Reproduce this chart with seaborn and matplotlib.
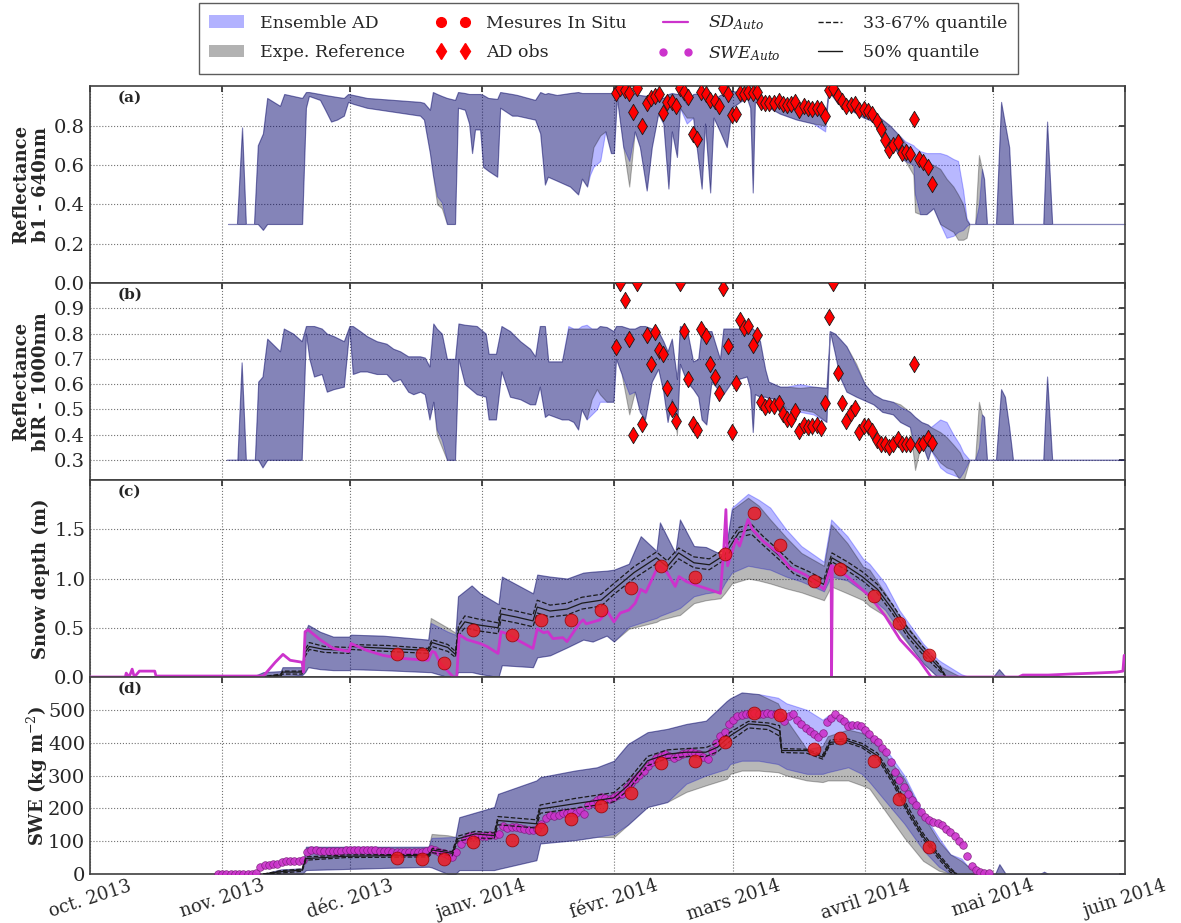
import matplotlib
matplotlib.use('Agg')
import matplotlib.pyplot as plt
import matplotlib.lines as mlines
import matplotlib.patches as mpatches
import seaborn as sns
import numpy as np
import pandas as pd

# ---- data (day offsets from 2013-10-01) ----
START = pd.Timestamp('2013-10-01')
MONTH_TICKS = ['2013-10-01', '2013-11-01', '2013-12-01', '2014-01-01', '2014-02-01',
               '2014-03-01', '2014-04-01', '2014-05-01', '2014-06-01']
MONTH_LABELS = ['oct. 2013', 'nov. 2013', 'déc. 2013', 'janv. 2014', 'févr. 2014',
                'mars 2014', 'avril 2014', 'mai 2014', 'juin 2014']

# panel (a) reflectance b1
A_DAY = [32.4, 34.5, 35.7, 36.6, 38.5, 39.4, 40.6, 41.6, 44.6, 45.6, 49.8, 50.7, 51.4, 54.0, 55.2, 56.6, 58.0, 59.6, 60.6, 61.8,
         65.0, 77.5, 78.4, 79.8, 80.5, 81.5, 82.6, 83.8, 85.7, 86.4, 88.0, 89.0, 89.7, 90.4, 91.6, 92.3, 93.5, 95.6, 96.3, 99.1,
         100.3, 104.5, 105.7, 106.8, 107.5, 109.6, 112.7, 114.6, 115.5, 116.7, 117.4, 118.2, 119.8, 121.0, 122.3, 123.0, 123.7, 125.2, 126.6, 127.9,
         129.1, 130.7, 131.9, 133.4, 134.6, 135.8, 136.6, 137.8, 138.5, 140.1, 141.6, 143.6, 144.4, 145.6, 146.4, 147.9, 149.5, 150.7, 152.6, 154.2,
         155.0, 155.6, 156.1, 157.7, 162.0, 165.9, 169.8, 172.6, 173.4, 175.3, 177.7, 181.6, 184.0, 185.5, 187.8, 190.2, 191.4, 193.3, 193.7, 194.9,
         196.4, 198.0, 199.6, 201.1, 202.7, 203.8, 205.0, 205.8, 206.5, 207.8, 208.7, 209.4, 209.9, 210.6, 212.7, 213.9, 214.8, 215.8, 216.7, 223.8,
         224.7, 225.9, 243.0]
A_ENS_LO = [0.30, 0.30, 0.30, 0.30, 0.30, 0.30, 0.27, 0.30, 0.30, 0.30, 0.30, 0.89, 0.95, 0.93, 0.88, 0.82, 0.83, 0.85, 0.92, 0.91,
            0.89, 0.85, 0.83, 0.66, 0.55, 0.44, 0.41, 0.30, 0.30, 0.89, 0.88, 0.81, 0.66, 0.78, 0.78, 0.59, 0.57, 0.54, 0.89, 0.85,
            0.85, 0.83, 0.76, 0.50, 0.54, 0.52, 0.49, 0.45, 0.53, 0.49, 0.55, 0.59, 0.62, 0.77, 0.66, 0.66, 0.94, 0.69, 0.62, 0.77,
            0.69, 0.47, 0.69, 0.86, 0.81, 0.48, 0.77, 0.64, 0.89, 0.81, 0.84, 0.48, 0.81, 0.46, 0.84, 0.77, 0.69, 0.89, 0.92, 0.94,
            0.89, 0.46, 0.92, 0.91, 0.86, 0.83, 0.81, 0.77, 0.975, 0.92, 0.89, 0.84, 0.82, 0.79, 0.72, 0.64, 0.62, 0.60, 0.45, 0.35,
            0.35, 0.38, 0.30, 0.23, 0.24, 0.26, 0.27, 0.29, 0.30, 0.30, 0.30, 0.30, 0.30, 0.30, 0.30, 0.30, 0.30, 0.30, 0.30, 0.30,
            0.30, 0.30, 0.30]
A_ENS_HI = [0.30, 0.30, 0.79, 0.30, 0.30, 0.70, 0.76, 0.94, 0.90, 0.96, 0.94, 0.97, 0.97, 0.96, 0.955, 0.95, 0.945, 0.94, 0.96, 0.955,
            0.94, 0.92, 0.915, 0.88, 0.97, 0.96, 0.95, 0.94, 0.93, 0.97, 0.965, 0.96, 0.96, 0.96, 0.96, 0.955, 0.94, 0.935, 0.97, 0.96,
            0.955, 0.93, 0.97, 0.96, 0.965, 0.955, 0.965, 0.97, 0.965, 0.965, 0.965, 0.965, 0.965, 0.965, 0.965, 0.965, 0.975, 0.97, 0.965, 0.96,
            0.955, 0.95, 0.95, 0.945, 0.94, 0.96, 0.965, 0.96, 0.96, 0.91, 0.96, 0.965, 0.96, 0.96, 0.93, 0.955, 0.96, 0.975, 0.97, 0.97,
            0.965, 0.96, 0.955, 0.925, 0.90, 0.88, 0.865, 0.84, 0.98, 0.955, 0.93, 0.89, 0.865, 0.84, 0.80, 0.745, 0.72, 0.70, 0.69, 0.67,
            0.66, 0.66, 0.66, 0.65, 0.63, 0.62, 0.47, 0.33, 0.30, 0.30, 0.40, 0.58, 0.53, 0.30, 0.30, 0.92, 0.81, 0.69, 0.30, 0.30,
            0.82, 0.30, 0.30]
A_REF_LO = [0.30, 0.30, 0.30, 0.30, 0.30, 0.30, 0.27, 0.30, 0.30, 0.30, 0.30, 0.89, 0.95, 0.93, 0.88, 0.82, 0.83, 0.85, 0.92, 0.91,
            0.89, 0.85, 0.83, 0.66, 0.55, 0.40, 0.38, 0.30, 0.30, 0.89, 0.88, 0.81, 0.66, 0.78, 0.78, 0.59, 0.57, 0.54, 0.89, 0.85,
            0.85, 0.83, 0.76, 0.50, 0.54, 0.52, 0.49, 0.45, 0.53, 0.49, 0.58, 0.69, 0.75, 0.77, 0.66, 0.66, 0.94, 0.69, 0.49, 0.77,
            0.69, 0.47, 0.69, 0.86, 0.81, 0.48, 0.77, 0.64, 0.89, 0.84, 0.84, 0.48, 0.81, 0.46, 0.84, 0.77, 0.69, 0.89, 0.92, 0.94,
            0.89, 0.46, 0.92, 0.91, 0.86, 0.83, 0.81, 0.80, 0.975, 0.92, 0.89, 0.84, 0.82, 0.79, 0.72, 0.64, 0.62, 0.55, 0.36, 0.35,
            0.35, 0.38, 0.30, 0.28, 0.26, 0.22, 0.22, 0.23, 0.30, 0.30, 0.30, 0.30, 0.30, 0.30, 0.30, 0.30, 0.30, 0.30, 0.30, 0.30,
            0.30, 0.30, 0.30]
A_REF_HI = [0.30, 0.30, 0.79, 0.30, 0.30, 0.70, 0.76, 0.94, 0.90, 0.96, 0.94, 0.97, 0.97, 0.96, 0.955, 0.95, 0.945, 0.94, 0.96, 0.955,
            0.94, 0.92, 0.915, 0.88, 0.97, 0.96, 0.95, 0.94, 0.93, 0.97, 0.965, 0.96, 0.96, 0.96, 0.96, 0.955, 0.94, 0.935, 0.97, 0.96,
            0.955, 0.93, 0.97, 0.96, 0.965, 0.955, 0.965, 0.97, 0.965, 0.965, 0.965, 0.965, 0.965, 0.965, 0.965, 0.965, 0.975, 0.97, 0.965, 0.96,
            0.955, 0.95, 0.95, 0.945, 0.94, 0.96, 0.965, 0.96, 0.96, 0.91, 0.96, 0.965, 0.96, 0.96, 0.93, 0.955, 0.96, 0.975, 0.97, 0.97,
            0.965, 0.96, 0.955, 0.925, 0.90, 0.88, 0.865, 0.84, 0.98, 0.955, 0.93, 0.89, 0.865, 0.84, 0.80, 0.745, 0.71, 0.66, 0.65, 0.63,
            0.61, 0.60, 0.58, 0.53, 0.49, 0.45, 0.40, 0.32, 0.30, 0.30, 0.65, 0.58, 0.53, 0.30, 0.30, 0.92, 0.81, 0.69, 0.30, 0.30,
            0.82, 0.30, 0.30]

# panel (b) reflectance bIR
B_DAY = [32.1, 34.6, 35.6, 36.6, 38.7, 39.5, 40.5, 41.6, 44.6, 45.5, 47.7, 49.7, 50.7, 51.5, 52.6, 54.4, 55.6, 57.2, 59.6, 60.9,
         61.7, 63.4, 65.0, 67.3, 69.6, 71.2, 72.8, 74.7, 75.9, 77.5, 78.6, 79.7, 80.6, 81.4, 82.6, 83.8, 85.7, 86.5, 88.0, 90.8,
         92.9, 93.6, 95.3, 96.6, 98.6, 101.0, 103.3, 104.5, 105.6, 106.8, 107.6, 110.8, 112.3, 113.5, 114.6, 115.4, 116.6, 117.8, 119.0, 119.7,
         121.3, 122.9, 123.5, 124.8, 126.6, 127.9, 129.1, 130.3, 131.9, 133.4, 134.6, 135.6, 136.6, 137.8, 138.5, 140.1, 141.6, 142.8, 143.6, 144.7,
         145.9, 147.9, 148.7, 150.7, 152.2, 154.2, 155.0, 155.6, 156.1, 157.3, 158.5, 159.3, 162.0, 163.6, 166.7, 169.8, 172.9, 173.7, 174.9, 176.0,
         177.6, 179.9, 181.9, 183.9, 186.0, 188.5, 190.2, 192.5, 193.7, 195.2, 196.7, 197.4, 199.6, 201.1, 202.7, 204.2, 205.0, 206.5, 207.8, 208.7,
         209.4, 209.9, 210.6, 212.7, 213.9, 214.8, 215.8, 216.7, 223.8, 224.7, 225.9, 243.0]
B_ENS_LO = [0.30, 0.30, 0.30, 0.30, 0.30, 0.30, 0.27, 0.30, 0.30, 0.30, 0.30, 0.30, 0.80, 0.70, 0.63, 0.64, 0.57, 0.58, 0.59, 0.82,
            0.64, 0.65, 0.65, 0.64, 0.64, 0.61, 0.62, 0.57, 0.56, 0.57, 0.56, 0.46, 0.53, 0.42, 0.38, 0.30, 0.30, 0.70, 0.60, 0.56,
            0.55, 0.46, 0.46, 0.65, 0.55, 0.54, 0.52, 0.52, 0.59, 0.47, 0.48, 0.46, 0.46, 0.45, 0.42, 0.50, 0.46, 0.48, 0.50, 0.53,
            0.53, 0.53, 0.70, 0.64, 0.56, 0.57, 0.49, 0.46, 0.61, 0.66, 0.57, 0.45, 0.54, 0.43, 0.68, 0.61, 0.58, 0.55, 0.46, 0.44,
            0.61, 0.57, 0.56, 0.61, 0.62, 0.63, 0.58, 0.41, 0.56, 0.55, 0.55, 0.545, 0.54, 0.49, 0.49, 0.48, 0.45, 0.81, 0.72, 0.63,
            0.57, 0.55, 0.535, 0.52, 0.49, 0.48, 0.45, 0.43, 0.35, 0.37, 0.30, 0.34, 0.27, 0.25, 0.24, 0.23, 0.25, 0.30, 0.30, 0.30,
            0.30, 0.30, 0.30, 0.30, 0.30, 0.30, 0.30, 0.30, 0.30, 0.30, 0.30, 0.30]
B_ENS_HI = [0.30, 0.30, 0.686, 0.30, 0.30, 0.61, 0.63, 0.78, 0.73, 0.82, 0.80, 0.77, 0.83, 0.83, 0.83, 0.82, 0.80, 0.79, 0.77, 0.83,
            0.83, 0.81, 0.79, 0.77, 0.76, 0.74, 0.73, 0.71, 0.71, 0.71, 0.705, 0.67, 0.84, 0.82, 0.80, 0.70, 0.70, 0.84, 0.835, 0.83,
            0.80, 0.72, 0.72, 0.83, 0.81, 0.77, 0.74, 0.71, 0.83, 0.83, 0.69, 0.69, 0.83, 0.82, 0.82, 0.83, 0.835, 0.82, 0.82, 0.83,
            0.826, 0.81, 0.83, 0.83, 0.82, 0.82, 0.83, 0.83, 0.82, 0.81, 0.77, 0.73, 0.78, 0.62, 0.83, 0.82, 0.69, 0.70, 0.82, 0.81,
            0.81, 0.70, 0.82, 0.82, 0.82, 0.82, 0.82, 0.82, 0.81, 0.77, 0.66, 0.61, 0.59, 0.59, 0.60, 0.59, 0.585, 0.81, 0.80, 0.78,
            0.75, 0.67, 0.60, 0.56, 0.54, 0.53, 0.51, 0.49, 0.47, 0.45, 0.44, 0.43, 0.46, 0.45, 0.40, 0.36, 0.33, 0.30, 0.30, 0.35,
            0.48, 0.47, 0.30, 0.30, 0.58, 0.55, 0.43, 0.30, 0.30, 0.63, 0.30, 0.30]
B_REF_LO = [0.30, 0.30, 0.30, 0.30, 0.30, 0.30, 0.27, 0.30, 0.30, 0.30, 0.30, 0.30, 0.80, 0.70, 0.63, 0.64, 0.57, 0.58, 0.59, 0.82,
            0.64, 0.65, 0.65, 0.64, 0.64, 0.61, 0.62, 0.57, 0.56, 0.57, 0.56, 0.46, 0.53, 0.40, 0.35, 0.30, 0.30, 0.70, 0.60, 0.56,
            0.55, 0.46, 0.46, 0.65, 0.55, 0.54, 0.52, 0.52, 0.59, 0.47, 0.48, 0.46, 0.46, 0.45, 0.42, 0.50, 0.46, 0.54, 0.58, 0.56,
            0.53, 0.53, 0.70, 0.64, 0.48, 0.57, 0.49, 0.46, 0.61, 0.66, 0.57, 0.45, 0.54, 0.40, 0.68, 0.61, 0.58, 0.55, 0.46, 0.44,
            0.61, 0.57, 0.56, 0.61, 0.62, 0.63, 0.58, 0.41, 0.56, 0.55, 0.55, 0.545, 0.54, 0.50, 0.50, 0.49, 0.45, 0.81, 0.72, 0.63,
            0.57, 0.55, 0.535, 0.52, 0.49, 0.48, 0.45, 0.43, 0.26, 0.37, 0.30, 0.34, 0.29, 0.27, 0.26, 0.22, 0.21, 0.30, 0.30, 0.30,
            0.30, 0.30, 0.30, 0.30, 0.30, 0.30, 0.30, 0.30, 0.30, 0.30, 0.30, 0.30]
B_REF_HI = [0.30, 0.30, 0.686, 0.30, 0.30, 0.61, 0.63, 0.78, 0.73, 0.82, 0.80, 0.77, 0.83, 0.83, 0.83, 0.82, 0.80, 0.79, 0.77, 0.83,
            0.83, 0.81, 0.79, 0.77, 0.76, 0.74, 0.73, 0.71, 0.71, 0.71, 0.705, 0.67, 0.84, 0.82, 0.80, 0.70, 0.70, 0.84, 0.835, 0.83,
            0.80, 0.72, 0.72, 0.83, 0.81, 0.77, 0.74, 0.71, 0.83, 0.83, 0.69, 0.69, 0.82, 0.82, 0.82, 0.82, 0.82, 0.82, 0.82, 0.83,
            0.826, 0.81, 0.83, 0.83, 0.82, 0.82, 0.83, 0.83, 0.82, 0.81, 0.77, 0.73, 0.78, 0.62, 0.83, 0.82, 0.69, 0.70, 0.82, 0.81,
            0.81, 0.70, 0.82, 0.82, 0.82, 0.82, 0.82, 0.82, 0.81, 0.77, 0.66, 0.61, 0.59, 0.59, 0.585, 0.59, 0.585, 0.81, 0.80, 0.78,
            0.75, 0.68, 0.60, 0.56, 0.54, 0.53, 0.52, 0.49, 0.47, 0.45, 0.44, 0.43, 0.41, 0.39, 0.36, 0.33, 0.30, 0.30, 0.30, 0.53,
            0.48, 0.47, 0.30, 0.30, 0.58, 0.55, 0.43, 0.30, 0.30, 0.63, 0.30, 0.30]

# AD observations (panels a and b share the dates)
OBS_DAY = [123.5, 124.4, 125.5, 126.6, 127.5, 128.5, 129.6, 130.7, 131.7, 132.7, 133.6, 134.5, 135.5, 136.6, 137.6,
           138.5, 139.5, 140.4, 141.6, 142.5, 143.5, 144.6, 145.6, 146.7, 147.7, 148.6, 149.8, 150.7, 151.7, 152.6,
           153.6, 154.5, 155.7, 156.6, 157.6, 158.5, 159.4, 160.6, 161.8, 162.7, 163.6, 164.6, 165.5, 166.5, 167.6,
           168.6, 169.5, 170.7, 171.6, 172.6, 173.5, 174.5, 175.6, 176.6, 177.5, 178.7, 179.6, 180.6, 181.7, 182.7,
           183.6, 184.8, 185.7, 186.7, 187.6, 188.5, 189.7, 190.6, 191.6, 192.5, 193.5, 194.6, 195.6, 196.8, 197.7]
OBS_B1 = [0.963, 0.99, 0.98, 0.966, 0.868, 0.99, 0.80, 0.915, 0.94, 0.95, 0.961, 0.865, 0.92, 0.92, 0.90,
          0.99, 0.97, 0.944, 0.756, 0.734, 0.97, 0.958, 0.929, 0.924, 0.90, 0.99, 0.961, 0.852, 0.857, 0.966,
          0.958, 0.97, 0.966, 0.97, 0.92, 0.916, 0.916, 0.912, 0.924, 0.911, 0.904, 0.907, 0.919, 0.877, 0.899,
          0.89, 0.885, 0.89, 0.882, 0.848, 0.98, 0.99, 0.95, 0.924, 0.90, 0.904, 0.911, 0.877, 0.882, 0.873,
          0.86, 0.823, 0.781, 0.726, 0.677, 0.702, 0.717, 0.658, 0.667, 0.655, 0.831, 0.63, 0.616, 0.587, 0.503]
OBS_BIR = [0.745, 1.0, 0.933, 0.78, 0.40, 1.0, 0.44, 0.795, 0.68, 0.805, 0.736, 0.72, 0.586, 0.50, 0.455,
           1.0, 0.81, 0.62, 0.443, 0.42, 0.82, 0.79, 0.68, 0.63, 0.565, 0.98, 0.75, 0.41, 0.604, 0.853,
           0.823, 0.83, 0.754, 0.795, 0.528, 0.509, 0.517, 0.515, 0.524, 0.48, 0.46, 0.46, 0.493, 0.413, 0.437,
           0.43, 0.433, 0.437, 0.428, 0.524, 0.865, 1.0, 0.644, 0.526, 0.452, 0.486, 0.505, 0.41, 0.434, 0.434,
           0.413, 0.377, 0.364, 0.361, 0.35, 0.364, 0.384, 0.361, 0.364, 0.361, 0.681, 0.357, 0.367, 0.387, 0.367]

# panel (c) snow depth envelopes
C_DAY = [38.0, 40.7, 44.8, 45.2, 49.8, 50.5, 51.2, 54.0, 57.1, 60.8, 61.3, 68.8, 79.4, 80.0, 84.0, 85.8, 86.4, 89.6, 91.6, 95.9,
         96.7, 104.0, 105.0, 108.0, 112.0, 115.8, 118.0, 121.3, 123.0, 126.5, 129.3, 133.0, 133.8, 137.4, 138.5, 141.8, 144.6, 148.0, 149.0, 150.7,
         154.5, 157.0, 159.7, 163.4, 167.0, 172.3, 174.0, 177.8, 181.5, 183.0, 186.7, 190.0, 195.6, 199.0, 200.0, 204.5, 206.4, 212.0, 213.4, 215.0,
         223.0, 224.0, 225.0, 243.0]
C_ENS_LO = [0, 0, 0, 0, 0.02, 0.05, 0.10, 0.08, 0.07, 0.07, 0.08, 0.07, 0.05, 0.05, 0.0, 0.0, 0.05, 0.05, 0.03, 0.0,
            0.12, 0.10, 0.20, 0.22, 0.30, 0.38, 0.36, 0.42, 0.36, 0.51, 0.55, 0.60, 0.62, 0.68, 0.70, 0.82, 0.85, 0.87, 0.95, 1.06,
            1.13, 1.11, 1.09, 1.02, 0.97, 0.87, 1.02, 0.98, 0.87, 0.82, 0.68, 0.47, 0.14, 0.0, 0, 0, 0, 0, 0, 0,
            0, 0, 0, 0]
C_ENS_HI = [0, 0.05, 0.06, 0.10, 0.10, 0.45, 0.53, 0.46, 0.41, 0.41, 0.43, 0.42, 0.38, 0.55, 0.46, 0.43, 0.82, 0.93, 0.85, 0.74,
            1.02, 0.85, 1.04, 1.02, 1.00, 1.06, 1.07, 1.08, 1.09, 1.15, 1.43, 1.28, 1.57, 1.26, 1.60, 1.33, 1.32, 1.25, 1.23, 1.72,
            1.86, 1.80, 1.72, 1.50, 1.33, 1.17, 1.60, 1.43, 1.20, 1.15, 0.95, 0.68, 0.34, 0.18, 0.15, 0.03, 0.0, 0.0, 0.08, 0.0,
            0.0, 0.02, 0.0, 0.0]
C_REF_LO = [0, 0, 0, 0, 0.02, 0.05, 0.10, 0.08, 0.07, 0.07, 0.08, 0.07, 0.05, 0.05, 0.0, 0.0, 0.05, 0.05, 0.03, 0.0,
            0.12, 0.10, 0.20, 0.22, 0.30, 0.38, 0.36, 0.42, 0.36, 0.49, 0.52, 0.56, 0.58, 0.62, 0.63, 0.75, 0.78, 0.80, 0.85, 0.95,
            1.00, 0.98, 0.95, 0.90, 0.86, 0.78, 0.92, 0.85, 0.78, 0.72, 0.62, 0.45, 0.14, 0.0, 0, 0, 0, 0, 0, 0,
            0, 0, 0, 0]
C_REF_HI = [0, 0.05, 0.06, 0.10, 0.10, 0.45, 0.53, 0.46, 0.41, 0.41, 0.43, 0.42, 0.38, 0.60, 0.50, 0.45, 0.82, 0.93, 0.85, 0.74,
            1.02, 0.85, 1.04, 1.02, 1.00, 1.06, 1.07, 1.08, 1.09, 1.15, 1.43, 1.28, 1.57, 1.26, 1.60, 1.33, 1.32, 1.25, 1.23, 1.70,
            1.82, 1.74, 1.60, 1.42, 1.26, 1.13, 1.55, 1.36, 1.12, 1.09, 0.85, 0.62, 0.31, 0.14, 0.10, 0.0, 0.0, 0.0, 0.08, 0.0,
            0.0, 0.02, 0.0, 0.0]

# panel (c) quantiles of snow depth
C_Q_DAY = [40.0, 44.8, 45.2, 49.8, 50.5, 51.5, 55.0, 60.8, 61.3, 70.0, 79.4, 80.3, 84.0, 85.8, 86.5, 88.0, 91.0, 95.8, 96.5, 100.0,
           104.0, 105.0, 108.0, 112.0, 115.5, 120.0, 123.0, 127.7, 133.0, 135.5, 138.2, 141.8, 145.4, 149.0, 152.4, 155.3, 158.0, 161.6, 165.2, 168.8,
           172.3, 174.2, 177.8, 181.3, 184.9, 188.5, 192.1, 195.7, 199.3, 201.0]
C_Q50 = [0, 0.02, 0.05, 0.05, 0.25, 0.31, 0.28, 0.27, 0.31, 0.29, 0.27, 0.35, 0.30, 0.23, 0.47, 0.56, 0.53, 0.50, 0.64, 0.61,
         0.57, 0.71, 0.67, 0.69, 0.75, 0.78, 0.89, 1.06, 1.21, 1.12, 1.26, 1.16, 1.14, 1.24, 1.47, 1.50, 1.38, 1.24, 1.09, 1.02,
         0.94, 1.21, 1.12, 1.02, 0.89, 0.68, 0.44, 0.26, 0.10, 0.0]
C_Q33 = [0, 0.01, 0.03, 0.03, 0.21, 0.28, 0.25, 0.24, 0.28, 0.26, 0.24, 0.31, 0.26, 0.20, 0.42, 0.50, 0.47, 0.44, 0.58, 0.55,
         0.51, 0.65, 0.61, 0.63, 0.69, 0.72, 0.84, 1.00, 1.15, 1.07, 1.20, 1.11, 1.09, 1.19, 1.42, 1.45, 1.34, 1.20, 1.05, 0.98,
         0.90, 1.17, 1.08, 0.98, 0.85, 0.64, 0.40, 0.22, 0.07, 0.0]
C_Q67 = [0, 0.03, 0.06, 0.06, 0.28, 0.35, 0.31, 0.30, 0.33, 0.32, 0.29, 0.38, 0.33, 0.26, 0.52, 0.62, 0.59, 0.55, 0.70, 0.67,
         0.63, 0.78, 0.73, 0.75, 0.81, 0.84, 0.95, 1.12, 1.27, 1.18, 1.31, 1.22, 1.20, 1.30, 1.52, 1.55, 1.43, 1.29, 1.14, 1.07,
         0.99, 1.26, 1.17, 1.07, 0.94, 0.73, 0.49, 0.30, 0.13, 0.0]

# automatic snow depth sensor
SD_DAY = [0, 8.3, 8.5, 9.2, 9.9, 10.4, 11.6, 15.2, 15.5, 40.7, 43.5, 45.3, 47.0, 49.8, 50.1, 50.5, 51.2, 54.0, 57.1, 60.8,
          61.3, 65.0, 68.8, 72.8, 79.4, 80.3, 81.0, 82.2, 83.8, 85.3, 86.1, 86.7, 88.5, 91.6, 93.2, 95.8, 96.5, 98.0, 100.2, 104.0,
          105.0, 106.5, 107.5, 108.7, 111.0, 112.0, 115.0, 115.8, 116.5, 119.7, 121.4, 123.0, 124.5, 126.5, 128.0, 129.3, 130.5, 133.0, 133.8, 135.5,
          137.4, 138.3, 140.0, 141.8, 144.6, 148.0, 148.8, 149.3, 149.7, 151.7, 152.5, 154.5, 155.5, 158.0, 161.6, 164.3, 167.9, 172.3, 174.0, 174.1,
          174.3, 177.8, 183.1, 186.7, 190.2, 194.7, 197.5, 218.0, 219.0, 225.0, 230.0, 236.0, 241.0, 242.5, 242.8]
SD_AUTO = [0.0, 0.0, 0.04, 0.0, 0.08, 0.0, 0.06, 0.06, 0.01, 0.01, 0.15, 0.23, 0.17, 0.15, 0.05, 0.46, 0.48, 0.38, 0.29, 0.26,
           0.34, 0.27, 0.22, 0.19, 0.17, 0.26, 0.25, 0.14, 0.07, 0.0, 0.0, 0.43, 0.38, 0.34, 0.31, 0.24, 0.46, 0.44, 0.38, 0.29,
           0.49, 0.45, 0.46, 0.39, 0.40, 0.36, 0.55, 0.58, 0.54, 0.58, 0.67, 0.56, 0.65, 0.68, 0.75, 0.89, 0.86, 1.09, 1.13, 1.06,
           0.92, 1.02, 0.97, 0.94, 0.90, 0.85, 1.30, 1.70, 1.13, 1.40, 1.33, 1.60, 1.50, 1.38, 1.26, 1.11, 1.04, 0.89, 1.13, 0.0,
           1.13, 1.02, 0.82, 0.62, 0.38, 0.17, 0.0, 0.0, 0.02, 0.02, 0.03, 0.04, 0.05, 0.06, 0.22]

# manual in situ measurements
INSITU_DAY = [72, 78, 83, 90, 99, 106, 113, 120, 127, 134, 142, 149, 156, 162, 170, 176, 184, 190, 197]
INSITU_SD = [0.235, 0.235, 0.147, 0.48, 0.425, 0.58, 0.58, 0.68, 0.90, 1.13, 1.02, 1.25, 1.67, 1.34, 0.97, 1.10, 0.82, 0.55, 0.22]
INSITU_SWE = [49, 45, 47, 96, 105, 137, 167, 206, 246, 339, 344, 403, 489, 484, 382, 414, 343, 229, 81]

# panel (d) SWE envelopes
D_DAY = [40.7, 44.8, 49.8, 50.7, 79.5, 80.2, 84.0, 85.8, 86.7, 94.9, 95.8, 104.8, 105.7, 113.8, 119.0, 123.0, 126.3, 130.9, 135.5, 140.0,
         144.6, 149.5, 150.3, 153.0, 157.0, 161.5, 163.5, 168.3, 172.0, 173.2, 178.0, 181.2, 183.0, 186.6, 191.2, 195.6, 199.3, 202.0, 204.6, 206.0,
         208.6, 209.5, 212.5, 213.5, 215.0, 223.0, 224.0, 225.0, 243.0]
D_ENS_LO = [0, 0, 0, 12, 22, 20, 0, 0, 12, 12, 15, 42, 93, 103, 113, 122, 150, 204, 219, 275,
            300, 320, 335, 345, 345, 335, 320, 305, 305, 310, 325, 305, 280, 224, 153, 73, 22, 0, 0, 0,
            0, 0, 0, 0, 0, 0, 0, 0, 0]
D_ENS_HI = [0, 14, 17, 83, 83, 110, 112, 113, 173, 204, 244, 285, 295, 315, 325, 345, 396, 432, 442, 457,
            467, 527, 535, 553, 548, 537, 520, 500, 470, 482, 467, 450, 426, 385, 300, 185, 110, 60, 47, 25,
            5, 0, 0, 30, 0, 0, 7, 0, 0]
D_REF_LO = [0, 0, 0, 12, 22, 20, 0, 0, 12, 12, 15, 42, 93, 103, 113, 112, 150, 204, 219, 250,
            270, 290, 305, 315, 315, 310, 300, 285, 280, 285, 285, 270, 260, 194, 110, 40, 10, 0, 0, 0,
            0, 0, 0, 0, 0, 0, 0, 0, 0]
D_REF_HI = [0, 14, 17, 83, 83, 122, 118, 113, 173, 204, 244, 285, 295, 315, 325, 345, 396, 432, 442, 457,
            467, 527, 535, 553, 548, 520, 470, 380, 390, 420, 440, 430, 415, 365, 290, 178, 100, 60, 40, 25,
            5, 0, 0, 30, 0, 0, 7, 0, 0]

# panel (d) quantiles of SWE
D_Q_DAY = [40.7, 44.8, 49.8, 50.7, 60.0, 79.5, 80.4, 85.0, 86.3, 90.4, 94.9, 95.8, 104.8, 105.7, 113.8, 119.0, 123.0, 126.3, 130.9, 135.5,
           140.0, 144.6, 147.3, 150.3, 154.6, 159.2, 161.9, 162.4, 168.3, 172.0, 173.8, 177.8, 181.2, 184.9, 188.5, 192.0, 195.7, 199.3, 202.0, 203.5]
D_Q50 = [0, 7, 12, 47, 54, 57, 73, 63, 107, 122, 117, 163, 153, 198, 214, 224, 232, 270, 345, 365,
         371, 371, 386, 421, 457, 452, 436, 376, 376, 356, 401, 406, 391, 360, 285, 194, 113, 53, 12, 0]
D_Q33 = [0, 3, 8, 42, 50, 52, 65, 55, 100, 110, 108, 150, 140, 185, 200, 210, 220, 255, 330, 352,
         358, 358, 372, 405, 445, 440, 420, 370, 368, 350, 395, 400, 385, 352, 275, 185, 105, 45, 5, 0]
D_Q67 = [0, 10, 15, 52, 58, 60, 78, 68, 115, 130, 125, 175, 165, 210, 230, 240, 248, 285, 358, 378,
         382, 385, 400, 432, 465, 460, 452, 382, 380, 362, 408, 412, 398, 368, 295, 205, 122, 60, 18, 0]

# automatic SWE sensor (daily)
SWE_DAY = list(range(30, 212))
SWE_AUTO = [1, 1, 1, 1, 1, 1, 1, 1, 1, 2, 20, 26, 28, 30, 30, 37, 39, 39, 39, 39,
            42, 67, 73, 72, 71, 70, 70, 70, 70, 71, 72, 73, 73, 73, 74, 73, 72, 72, 71, 70,
            69, 68, 68, 67, 67, 67, 66, 66, 66, 70, 75, 72, 66, 65, 58, 53, 67, 92, 107, 117,
            117, 116, 117, 117, 118, 118, 122, 146, 139, 142, 144, 140, 138, 135, 133, 136, 153, 170, 179, 178,
            179, 185, 187, 189, 185, 194, 184, 209, 216, 224, 234, 232, 229, 236, 240, 245, 265, 278, 290, 303,
            315, 328, 340, 352, 360, 365, 360, 353, 360, 365, 368, 371, 368, 365, 355, 350, 376, 400, 420, 432,
            457, 470, 482, 485, 487, 488, 489, 487, 488, 489, 488, 487, 480, 467, 480, 487, 470, 457, 445, 436,
            425, 416, 430, 462, 475, 487, 475, 465, 452, 455, 455, 450, 440, 426, 410, 401, 385, 371, 340, 310,
            285, 265, 244, 226, 209, 190, 173, 165, 158, 155, 150, 138, 128, 117, 102, 87, 55, 25, 12, 5,
            4, 4]

# ---- style ----
ENS_COLOR = '#0000ff'
REF_COLOR = '#000000'
MAGENTA = '#cc33cc'

sns.set_theme(style='white')
plt.rcParams['font.family'] = ['DejaVu Serif']
plt.rcParams['mathtext.fontset'] = 'dejavuserif'


def to_dates(days):
    return START + pd.to_timedelta(np.asarray(days, dtype=float), unit='D')


def band(ax, d, elo, ehi, rlo, rhi):
    x = to_dates(d)
    ax.fill_between(x, elo, ehi, color=ENS_COLOR, alpha=0.28, lw=0.8, zorder=1)
    ax.fill_between(x, rlo, rhi, color=REF_COLOR, alpha=0.28, lw=0.8, zorder=1)


def quantiles(ax, d, q33, q50, q67):
    x = to_dates(d)
    sns.lineplot(x=x, y=q50, ax=ax, color='k', lw=0.9, estimator=None, sort=False, zorder=3)
    for q in (q33, q67):
        sns.lineplot(x=x, y=q, ax=ax, color='k', lw=0.9, ls='--', estimator=None, sort=False, zorder=3)


fig = plt.figure(figsize=(11.81, 9.23), dpi=100)
left, width, height = 0.0762, 0.8764, 0.2134
bottoms = [0.6933, 0.4799, 0.2665, 0.0531]
axes = [fig.add_axes([left, b, width, height]) for b in bottoms]
ax_a, ax_b, ax_c, ax_d = axes

band(ax_a, A_DAY, A_ENS_LO, A_ENS_HI, A_REF_LO, A_REF_HI)
sns.scatterplot(x=to_dates(OBS_DAY), y=OBS_B1, ax=ax_a, marker='d', s=70, color='#ff0000',
                edgecolor='k', linewidth=0.6, zorder=5)

band(ax_b, B_DAY, B_ENS_LO, B_ENS_HI, B_REF_LO, B_REF_HI)
sns.scatterplot(x=to_dates(OBS_DAY), y=OBS_BIR, ax=ax_b, marker='d', s=70, color='#ff0000',
                edgecolor='k', linewidth=0.6, zorder=5)

band(ax_c, C_DAY, C_ENS_LO, C_ENS_HI, C_REF_LO, C_REF_HI)
quantiles(ax_c, C_Q_DAY, C_Q33, C_Q50, C_Q67)
sns.lineplot(x=to_dates(SD_DAY), y=SD_AUTO, ax=ax_c, color=MAGENTA, lw=2.0, estimator=None, sort=False, zorder=4)
sns.scatterplot(x=to_dates(INSITU_DAY), y=INSITU_SD, ax=ax_c, s=85, color='#ee1c24', alpha=0.85,
                edgecolor='#990000', linewidth=0.6, zorder=6)

band(ax_d, D_DAY, D_ENS_LO, D_ENS_HI, D_REF_LO, D_REF_HI)
sns.scatterplot(x=to_dates(SWE_DAY), y=SWE_AUTO, ax=ax_d, s=30, color='#cc33cc', alpha=0.9,
                edgecolor='#7a1a7a', linewidth=0.5, zorder=3)
quantiles(ax_d, D_Q_DAY, D_Q33, D_Q50, D_Q67)
sns.scatterplot(x=to_dates(INSITU_DAY), y=INSITU_SWE, ax=ax_d, s=85, color='#ee1c24', alpha=0.85,
                edgecolor='#990000', linewidth=0.6, zorder=6)

ylims = [(0, 1.0), (0.22, 1.0), (0, 2.0), (0, 600)]
yticks = [[0.0, 0.2, 0.4, 0.6, 0.8], [0.3, 0.4, 0.5, 0.6, 0.7, 0.8, 0.9], [0.0, 0.5, 1.0, 1.5],
          [0, 100, 200, 300, 400, 500]]
ylabels = ['Reflectance\nb1 - 640nm', 'Reflectance\nbIR - 1000nm', 'Snow depth (m)', 'SWE (kg m$^{-2}$)']
tags = ['(a)', '(b)', '(c)', '(d)']
month_dates = pd.to_datetime(MONTH_TICKS)

for ax, yl, yt, lab, tag in zip(axes, ylims, yticks, ylabels, tags):
    ax.set_xlim(month_dates[0], month_dates[-1])
    ax.set_ylim(*yl)
    ax.set_yticks(yt)
    ax.set_xticks(month_dates)
    ax.grid(True, ls=':', color='0.45', lw=0.8)
    ax.tick_params(direction='in', top=True, right=True, length=4, labelsize=14, color='0.2')
    ax.tick_params(axis='x', pad=2, labelsize=13)
    for s in ax.spines.values():
        s.set_color('0.25')
        s.set_linewidth(1.2)
    ax.set_xlabel('')
    ax.set_ylabel(lab, fontsize=13, fontweight='bold', linespacing=1.1)
    ax.yaxis.set_label_coords(-0.039, 0.5)
    ax.text(0.027, 0.94, tag, transform=ax.transAxes, fontsize=11, fontweight='bold', va='center')
    if ax is ax_d:
        ax.set_xticklabels(MONTH_LABELS, rotation=18, ha='center')
    else:
        ax.set_xticklabels([])

handles = [
    mpatches.Patch(color=ENS_COLOR, alpha=0.3, lw=0),
    mpatches.Patch(color=REF_COLOR, alpha=0.3, lw=0),
    mlines.Line2D([], [], ls='none', marker='o', ms=7, color='#ff0000', mec='#ff0000'),
    mlines.Line2D([], [], ls='none', marker='d', ms=8, color='#ff0000', mec='#ff0000'),
    mlines.Line2D([], [], color=MAGENTA, lw=1.6),
    mlines.Line2D([], [], ls='none', marker='o', ms=5, color=MAGENTA, mec=MAGENTA),
    mlines.Line2D([], [], color='k', lw=1.0, ls='--'),
    mlines.Line2D([], [], color='k', lw=1.0),
]
labels = ['Ensemble AD', 'Expe. Reference', 'Mesures In Situ', 'AD obs',
          '$SD_{Auto}$', '$SWE_{Auto}$', '33-67% quantile', '50% quantile']
leg = fig.legend(handles, labels, ncol=4, loc='upper center', bbox_to_anchor=(0.515, 0.9965),
                 numpoints=2, fontsize=12.5, frameon=True, fancybox=False, edgecolor='0.2',
                 columnspacing=1.8, handlelength=2.0, handletextpad=0.9, borderpad=0.6,
                 labelspacing=0.7, borderaxespad=0.0)
leg.get_frame().set_linewidth(1.0)

fig.savefig('out.png', dpi=100)
